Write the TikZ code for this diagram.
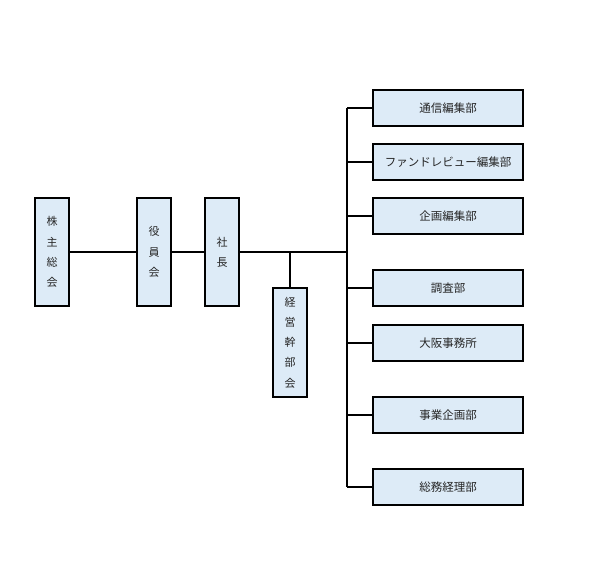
\documentclass[tikz,border=0pt]{standalone}
\usepackage{fontspec}
\newfontfamily\jp{Noto Sans CJK JP}
\definecolor{boxfill}{HTML}{DDEBF7}
\definecolor{txt}{HTML}{262626}
\begin{document}
\begin{tikzpicture}[x=1pt,y=-1pt,
  box/.style={draw=black, line width=2.4pt, fill=boxfill, inner sep=0pt, text=txt},
  vbox/.style={box, minimum width=34pt, minimum height=108pt, align=center, font={\jp\fontsize{11}{20.3}\selectfont}},
  hbox/.style={box, minimum width=150pt, minimum height=36pt, font={\jp\fontsize{11.5}{12}\selectfont}},
  conn/.style={line width=2.1pt}]
\useasboundingbox (0,0) rectangle (591,567);
\coordinate (bus) at (347,252);
\coordinate (bustop) at (347,108);
\coordinate (busbot) at (347,487);
\node[vbox] (k1) at (52,252) {株\\主\\総\\会};
\node[vbox] (k2) at (154,252) {役\\員\\会};
\node[vbox] (k3) at (222,252) {社\\長};
\node[vbox, minimum height=109pt] (k4) at (290,342.5) {経\\営\\幹\\部\\会};
\node[hbox] (r1) at (448,108) {通信編集部};
\node[hbox] (r2) at (448,162) {ファンドレビュー編集部};
\node[hbox] (r3) at (448,216) {企画編集部};
\node[hbox] (r4) at (448,288) {調査部};
\node[hbox] (r5) at (448,343) {大阪事務所};
\node[hbox] (r6) at (448,415) {事業企画部};
\node[hbox] (r7) at (448,487) {総務経理部};
\draw[conn] (k1.east) -- (k2.west);
\draw[conn] (k2.east) -- (k3.west);
\draw[conn] (k3.east) -- (bus);
\draw[conn] (k4.north) -- (k4.north |- bus);
\draw[conn] (bustop) -- (busbot);
\foreach \r in {r1,r2,r3,r4,r5,r6,r7} \draw[conn] (\r.west -| bus) -- (\r.west);
\end{tikzpicture}
\end{document}
